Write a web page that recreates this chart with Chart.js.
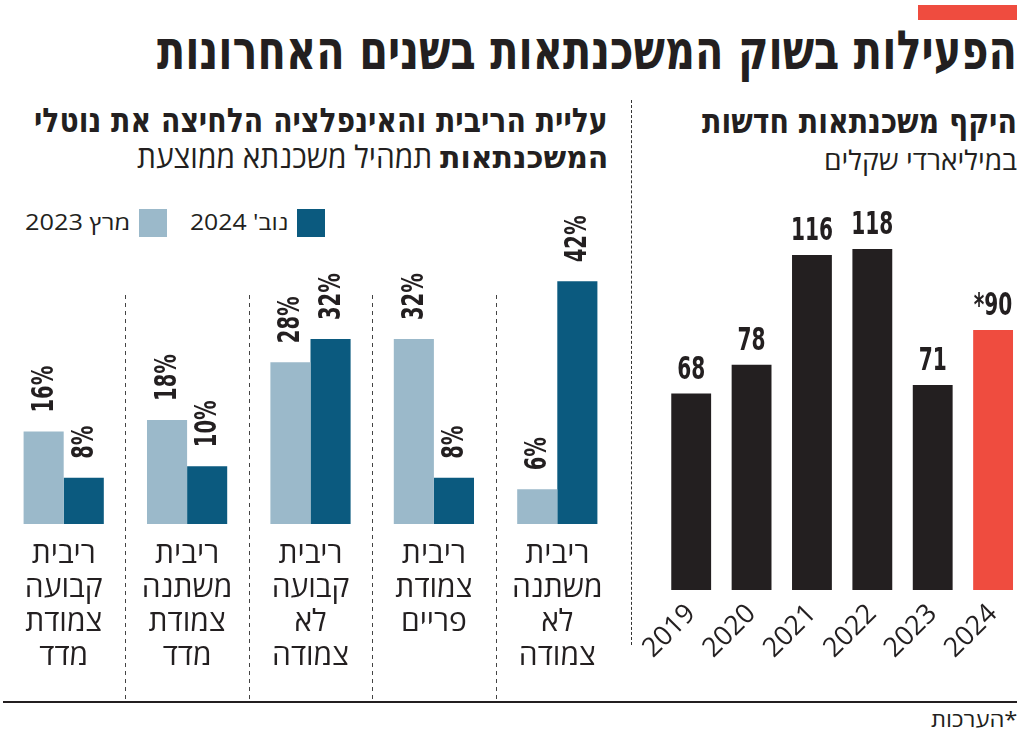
<!DOCTYPE html>
<html lang="he">
<head>
<meta charset="utf-8">
<script src="https://cdn.jsdelivr.net/npm/chart.js@4"></script>
<style>
  html, body { margin: 0; padding: 0; background: #fff; }
  body { width: 1024px; height: 737px; position: relative; overflow: hidden; color: #231f20; font-family: "Open Sans", "DejaVu Sans", sans-serif; }
  .txt { position: absolute; white-space: nowrap; transform-origin: right top; direction: rtl; line-height: 1; }
  .bold { font-family: "DejaVu Sans", sans-serif; font-weight: bold; }
  .box { position: absolute; width: 28px; height: 28px; }
  canvas { position: absolute; }
</style>
</head>
<body>
<div style="position:absolute;left:918px;top:5px;width:99px;height:15px;background:#ef4c3f"></div>
<div id="title" class="txt bold" style="right:7px;top:24px;font-size:54px">הפעילות בשוק המשכנתאות בשנים האחרונות</div>

<div id="rightHead" class="txt bold" style="right:7px;top:104px;font-size:34px">היקף משכנתאות חדשות</div>
<div id="rightSub" class="txt" style="right:7px;top:146px;font-size:27px">במיליארדי שקלים</div>

<div id="leftHead" class="txt bold" style="right:416px;top:103px;font-size:34px">עליית הריבית והאינפלציה הלחיצה את נוטלי</div>
<div id="leftSub" class="txt" style="right:416px;top:141px;font-size:31px"><span class="bold">המשכנתאות</span> תמהיל משכנתא ממוצעת</div>

<div class="box" style="left:297px;top:209px;background:#0b5a7f"></div>
<div id="legNov" class="txt" style="right:736px;top:212px;font-size:21px">נוב' 2024</div>
<div class="box" style="left:139px;top:209px;background:#9bb9ca"></div>
<div id="legMar" class="txt" style="right:894px;top:212px;font-size:21px">מרץ 2023</div>

<div style="position:absolute;left:631px;top:100px;height:545px;border-left:1.5px dashed #333"></div>

<canvas id="rateChart" style="left:0;top:195px" width="632" height="505"></canvas>
<canvas id="volumeChart" style="left:580px;top:200px" width="444" height="500"></canvas>

<div style="position:absolute;left:3px;top:701px;width:1014px;height:2px;background:#231f20"></div>
<div id="note" class="txt" style="right:7px;top:709px;font-size:21px">*הערכות</div>

<script>
// mortgage mix (left panel), in display order left to right
const rateCategories = [
  ['ריבית', 'קבועה', 'צמודת', 'מדד'],
  ['ריבית', 'משתנה', 'צמודת', 'מדד'],
  ['ריבית', 'קבועה', 'לא', 'צמודה'],
  ['ריבית', 'צמודת', 'פריים'],
  ['ריבית', 'משתנה', 'לא', 'צמודה']
];
const march2023 = [16, 18, 28, 32, 6];
const nov2024 = [8, 10, 32, 8, 42];

// new mortgages, billions of shekels (right panel)
const years = ['2019', '2020', '2021', '2022', '2023', '2024'];
const mortgageVolume = [68, 78, 116, 118, 71, 90];
const estimated = [false, false, false, false, false, true];

const INK = '#231f20';
const NUM_FONT = '"DejaVu Sans", sans-serif';
const NUM_SQUEEZE = 0.63;

// squeeze heading text to the width it has in the print layout
function fit(id, width) {
  const el = document.getElementById(id);
  el.style.transform = 'scaleX(' + (width / el.scrollWidth) + ')';
}
fit('title', 860);
fit('rightHead', 315);
fit('rightSub', 193);
fit('leftHead', 574);
fit('leftSub', 471);
fit('legNov', 98);
fit('legMar', 105);
fit('note', 86);

const rateDecor = {
  id: 'rateDecor',
  beforeDatasetsDraw(chart) {
    const { ctx, chartArea, scales: { x } } = chart;
    ctx.save();
    ctx.strokeStyle = '#444';
    ctx.lineWidth = 1;
    ctx.setLineDash([4, 4]);
    for (let i = 0; i < x.ticks.length - 1; i++) {
      const px = Math.round((x.getPixelForTick(i) + x.getPixelForTick(i + 1)) / 2) + 0.5;
      ctx.beginPath();
      ctx.moveTo(px, chartArea.top + 60);
      ctx.lineTo(px, chart.height);
      ctx.stroke();
    }
    ctx.restore();
  },
  afterDatasetsDraw(chart) {
    const ctx = chart.ctx;
    ctx.save();
    ctx.fillStyle = INK;
    ctx.font = 'bold 31px ' + NUM_FONT;
    ctx.textAlign = 'left';
    ctx.textBaseline = 'middle';
    chart.data.datasets.forEach((ds, di) => {
      chart.getDatasetMeta(di).data.forEach((bar, i) => {
        ctx.save();
        ctx.translate(bar.x + 1, bar.y - 19);
        ctx.rotate(-Math.PI / 2);
        ctx.scale(NUM_SQUEEZE, 1);
        ctx.fillText(ds.data[i] + '%', 0, 0);
        ctx.restore();
      });
    });
    ctx.restore();
  }
};

new Chart(document.getElementById('rateChart'), {
  type: 'bar',
  data: {
    labels: rateCategories,
    datasets: [
      { label: 'מרץ 2023', data: march2023, backgroundColor: '#9bb9ca' },
      { label: "נוב' 2024", data: nov2024, backgroundColor: '#0b5a7f' }
    ]
  },
  options: {
    responsive: false,
    animation: false,
    events: [],
    layout: { padding: { left: 2, right: 13, top: 40, bottom: 0 } },
    datasets: { bar: { categoryPercentage: 0.65, barPercentage: 1 } },
    plugins: { legend: { display: false }, tooltip: { enabled: false } },
    scales: {
      x: {
        grid: { display: false, drawTicks: false },
        border: { display: false },
        ticks: { color: INK, padding: 14, font: { family: '"Open Sans", "DejaVu Sans", sans-serif', size: 30, lineHeight: 1.13 }, maxRotation: 0, autoSkip: false },
        afterFit: s => { s.height = 176; }
      },
      y: { display: false, min: 0, max: 50 }
    }
  },
  plugins: [rateDecor]
});

const volumeLabels = {
  id: 'volumeLabels',
  afterDatasetsDraw(chart) {
    const ctx = chart.ctx;
    ctx.save();
    ctx.fillStyle = INK;
    ctx.font = 'bold 32px ' + NUM_FONT;
    ctx.textAlign = 'center';
    ctx.textBaseline = 'alphabetic';
    chart.getDatasetMeta(0).data.forEach((bar, i) => {
      const label = (estimated[i] ? '*' : '') + mortgageVolume[i];
      ctx.save();
      ctx.translate(bar.x, bar.y - 15);
      ctx.scale(NUM_SQUEEZE, 1);
      ctx.fillText(label, 0, 0);
      ctx.restore();
    });
    ctx.restore();
  }
};

new Chart(document.getElementById('volumeChart'), {
  type: 'bar',
  data: {
    labels: years,
    datasets: [{
      label: 'היקף משכנתאות חדשות',
      data: mortgageVolume,
      backgroundColor: estimated.map(e => e ? '#ef4c3f' : INK)
    }]
  },
  options: {
    responsive: false,
    animation: false,
    events: [],
    layout: { padding: { left: 81, right: 0, top: 0, bottom: 0 } },
    datasets: { bar: { categoryPercentage: 0.66, barPercentage: 1 } },
    plugins: { legend: { display: false }, tooltip: { enabled: false } },
    scales: {
      x: {
        grid: { display: false, drawTicks: false },
        border: { display: false },
        ticks: { color: INK, padding: 8, font: { family: '"Open Sans", "DejaVu Sans", sans-serif', size: 27 }, minRotation: 45, maxRotation: 45, autoSkip: false },
        afterFit: s => { s.height = 110; }
      },
      y: { display: false, min: 0, max: 135 }
    }
  },
  plugins: [volumeLabels]
});
</script>
</body>
</html>
